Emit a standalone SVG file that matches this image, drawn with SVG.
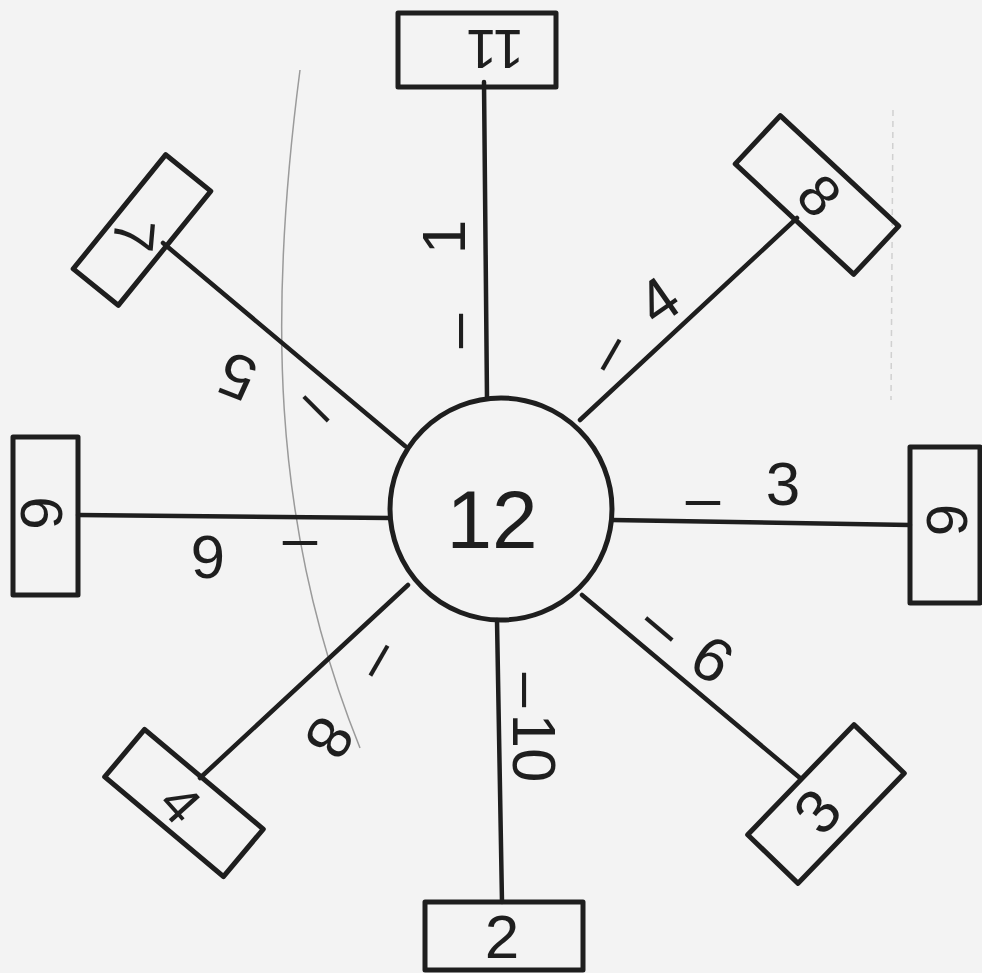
<svg xmlns="http://www.w3.org/2000/svg" width="982" height="973" viewBox="0 0 982 973">
<style>
.bg{fill:#f3f3f3}
.box{fill:none;stroke:#1e1e1e;stroke-width:5;stroke-linejoin:round}
.spoke{stroke:#1e1e1e;stroke-width:4.5;stroke-linecap:round;fill:none}
.hub{fill:none;stroke:#1e1e1e;stroke-width:5}
.pencil{fill:none;stroke:#9a9a9a;stroke-width:1.5}
.faint{fill:none;stroke:#d0d0d0;stroke-width:1.5;stroke-dasharray:6 5}
text{font-family:"Liberation Sans","DejaVu Sans",sans-serif;fill:#1e1e1e;text-anchor:middle}
.bt{font-size:60px}
.lb{font-size:62px}
</style>
<rect class="bg" x="0" y="0" width="982" height="973"/>
<path class="pencil" d="M 300 70 C 270 300, 268 520, 360 748"/>
<path class="faint" d="M 893 110 L 891 400"/>

<g id="connectors">
  <line class="spoke" x1="484" y1="82" x2="487" y2="398"/>
  <line class="spoke" x1="163" y1="243" x2="405" y2="446"/>
  <line class="spoke" x1="580" y1="420" x2="797" y2="218"/>
  <line class="spoke" x1="78" y1="515" x2="390" y2="518"/>
  <line class="spoke" x1="612" y1="520" x2="910" y2="525"/>
  <line class="spoke" x1="408" y1="585" x2="200" y2="778"/>
  <line class="spoke" x1="582" y1="595" x2="800" y2="778"/>
  <line class="spoke" x1="497" y1="620" x2="502" y2="902"/>
  <g id="edge-labels">
    <g id="label-top">
      <text class="lb" transform="translate(462,331) rotate(90)" x="0" y="17">–</text>
      <text class="lb" transform="translate(443,237) rotate(-90)" x="0" y="22">1</text>
    </g>
    <g id="label-top-left">
      <text class="lb" transform="translate(317,408) rotate(45)" x="0" y="17">–</text>
      <text class="lb" transform="translate(237,377) rotate(-159)" x="0" y="22">5</text>
    </g>
    <g id="label-left">
      <text class="lb" transform="translate(300,542)" x="0" y="17">–</text>
      <text class="lb" transform="translate(208,558) rotate(180)" x="0" y="22">6</text>
    </g>
    <g id="label-bottom-left">
      <text class="lb" transform="translate(378,660) rotate(-60)" x="0" y="17">–</text>
      <text class="lb" transform="translate(330,738) rotate(121)" x="0" y="22">8</text>
    </g>
    <g id="label-bottom">
      <text class="lb" transform="translate(525,690) rotate(90)" x="0" y="17">–</text>
      <text class="lb" transform="translate(535,748) rotate(90)" x="0" y="22">10</text>
    </g>
    <g id="label-bottom-right">
      <text class="lb" transform="translate(660,628) rotate(40)" x="0" y="17">–</text>
      <text class="lb" transform="translate(712,660) rotate(213)" x="0" y="22">9</text>
    </g>
    <g id="label-right">
      <text class="lb" transform="translate(703,502)" x="0" y="17">–</text>
      <text class="lb" transform="translate(783,483)" x="0" y="22">3</text>
    </g>
    <g id="label-top-right">
      <text class="lb" transform="translate(610,354) rotate(-60)" x="0" y="17">–</text>
      <text class="lb" transform="translate(658,300) rotate(-35)" x="0" y="22">4</text>
    </g>
  </g>
</g>

<g id="node-12">
  <circle class="hub" cx="501" cy="509" r="111"/>
  <text x="492" y="548" style="font-size:82px">12</text>
</g>
<g id="node-11">
  <rect class="box" x="398" y="13" width="158" height="74"/>
  <text class="bt" transform="translate(495,50) rotate(180)" x="0" y="20" style="font-size:56px">11</text>
</g>
<g id="node-7">
  <rect class="box" transform="translate(142,230) rotate(-51)" x="-73.5" y="-29" width="147" height="58"/>
  <text class="bt" transform="translate(135,236) rotate(95)" x="0" y="21" style="font-size:58px">7</text>
</g>
<g id="node-8">
  <rect class="box" transform="translate(817,195) rotate(43)" x="-81" y="-33" width="162" height="66"/>
  <text class="bt" transform="translate(820,195) rotate(47)" x="0" y="21" style="font-size:58px">8</text>
</g>
<g id="node-6">
  <rect class="box" x="13" y="437" width="65" height="158"/>
  <text class="bt" transform="translate(42,513) rotate(90)" x="0" y="21">6</text>
</g>
<g id="node-9">
  <rect class="box" x="910" y="447" width="70" height="156"/>
  <text class="bt" transform="translate(946,520) rotate(-90)" x="0" y="21" style="font-size:58px">9</text>
</g>
<g id="node-4">
  <rect class="box" transform="translate(184,803) rotate(40)" x="-77.5" y="-31" width="155" height="62"/>
  <text class="bt" transform="translate(181,803) rotate(48)" x="0" y="20" style="font-size:55px">4</text>
</g>
<g id="node-3">
  <rect class="box" transform="translate(826,804) rotate(-46)" x="-76.5" y="-35" width="153" height="70"/>
  <text class="bt" transform="translate(817,811) rotate(-50)" x="0" y="22" style="font-size:62px">3</text>
</g>
<g id="node-2">
  <rect class="box" x="425" y="902" width="158" height="68"/>
  <text x="502" y="958" style="font-size:62px">2</text>
</g>
</svg>
